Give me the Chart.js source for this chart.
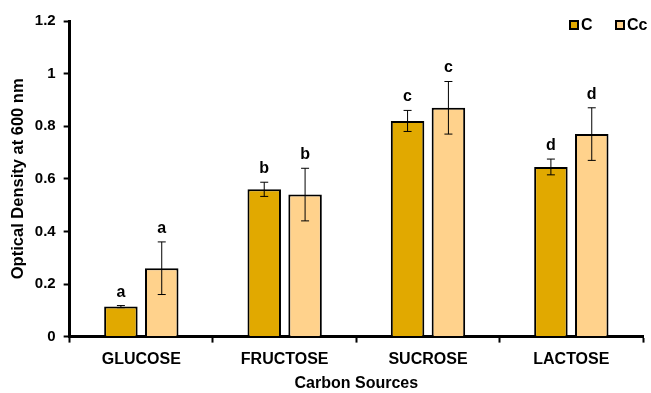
<!DOCTYPE html>
<html>
<head>
<meta charset="utf-8">
<script src="https://cdn.jsdelivr.net/npm/chart.js@4.4.1/dist/chart.umd.min.js"></script>
<style>
  html, body { margin: 0; padding: 0; background: #fff; }
</style>
</head>
<body>
<canvas id="chart" width="651" height="393"></canvas>
<script>
// chart values
const categories = ['GLUCOSE', 'FRUCTOSE', 'SUCROSE', 'LACTOSE'];
const seriesC = [0.114, 0.56, 0.82, 0.645];
const seriesCc = [0.26, 0.54, 0.87, 0.77];
const errC = [0.004, 0.027, 0.04, 0.03];
const errCc = [0.10, 0.10, 0.10, 0.10];
const lettersC = ['a', 'b', 'c', 'd'];
const lettersCc = ['a', 'b', 'c', 'd'];
const yTicks = [0, 0.2, 0.4, 0.6, 0.8, 1, 1.2];

const FONT = 'Liberation Sans, Arial, sans-serif';

// error bars + significance letters
const errorBars = {
  id: 'errorBars',
  afterDatasetsDraw(chart) {
    const ctx = chart.ctx;
    const y = chart.scales.y;
    const errs = [errC, errCc];
    const letters = [lettersC, lettersCc];
    chart.data.datasets.forEach((ds, di) => {
      const meta = chart.getDatasetMeta(di);
      meta.data.forEach((bar, i) => {
        const v = ds.data[i];
        const e = errs[di][i];
        const top = y.getPixelForValue(v + e);
        const bot = y.getPixelForValue(v - e);
        const x = bar.x;
        ctx.save();
        ctx.strokeStyle = '#000';
        ctx.lineWidth = 1;
        ctx.beginPath();
        ctx.moveTo(x, top); ctx.lineTo(x, bot);
        ctx.moveTo(x - 4, top); ctx.lineTo(x + 4, top);
        ctx.moveTo(x - 4, bot); ctx.lineTo(x + 4, bot);
        ctx.stroke();
        ctx.fillStyle = '#000';
        ctx.font = 'bold 16px ' + FONT;
        ctx.textAlign = 'center';
        ctx.textBaseline = 'alphabetic';
        ctx.fillText(letters[di][i], x, top - 9);
        ctx.restore();
      });
    });
  }
};

// small legend in the top right corner
const cornerLegend = {
  id: 'cornerLegend',
  afterDraw(chart) {
    const ctx = chart.ctx;
    const area = chart.chartArea;
    const slots = [area.right - 73, area.right - 27];
    const cy = area.top + 4;
    chart.data.datasets.forEach((ds, i) => {
      const x = slots[i];
      ctx.save();
      ctx.fillStyle = ds.backgroundColor;
      ctx.strokeStyle = '#000';
      ctx.lineWidth = 2;
      ctx.fillRect(x, cy - 4, 8, 8);
      ctx.strokeRect(x, cy - 4, 8, 8);
      ctx.fillStyle = '#000';
      ctx.font = 'bold 16px ' + FONT;
      ctx.textBaseline = 'middle';
      ctx.textAlign = 'left';
      ctx.fillText(ds.label, x + 11, cy + 1);
      ctx.restore();
    });
  }
};

new Chart(document.getElementById('chart'), {
  type: 'bar',
  data: {
    labels: categories,
    datasets: [
      {
        label: 'C',
        data: seriesC,
        backgroundColor: '#E1A900',
        borderColor: '#000',
        borderWidth: 2,
        categoryPercentage: 0.57,
        barPercentage: 0.82
      },
      {
        label: 'Cc',
        data: seriesCc,
        backgroundColor: '#FFD28C',
        borderColor: '#000',
        borderWidth: 2,
        categoryPercentage: 0.57,
        barPercentage: 0.82
      }
    ]
  },
  options: {
    responsive: false,
    animation: false,
    layout: { padding: { top: 21, right: 8, left: 5, bottom: 0 } },
    plugins: {
      legend: { display: false },
      tooltip: { enabled: false }
    },
    scales: {
      x: {
        grid: { drawOnChartArea: false, tickLength: 6, tickColor: '#000', tickWidth: 2 },
        border: { color: '#000', width: 3 },
        ticks: { color: '#000', font: { family: FONT, size: 16, weight: 'bold' }, padding: 7 },
        title: { display: true, text: 'Carbon Sources', color: '#000', font: { family: FONT, size: 16, weight: 'bold' }, padding: { top: -2, bottom: 0 } }
      },
      y: {
        min: 0,
        max: 1.2,
        afterBuildTicks(scale) { scale.ticks = yTicks.map(v => ({ value: v })); },
        grid: { drawOnChartArea: false, tickLength: 6, tickColor: '#000', tickWidth: 2 },
        border: { color: '#000', width: 3 },
        ticks: {
          color: '#000',
          font: { family: FONT, size: 15, weight: 'bold' },
          padding: 8,
          callback: v => String(v)
        },
        title: { display: true, text: 'Optical Density at 600 nm', color: '#000', font: { family: FONT, size: 16.5, weight: 'bold' }, padding: { bottom: -2 } }
      }
    }
  },
  plugins: [errorBars, cornerLegend]
});
</script>
</body>
</html>
